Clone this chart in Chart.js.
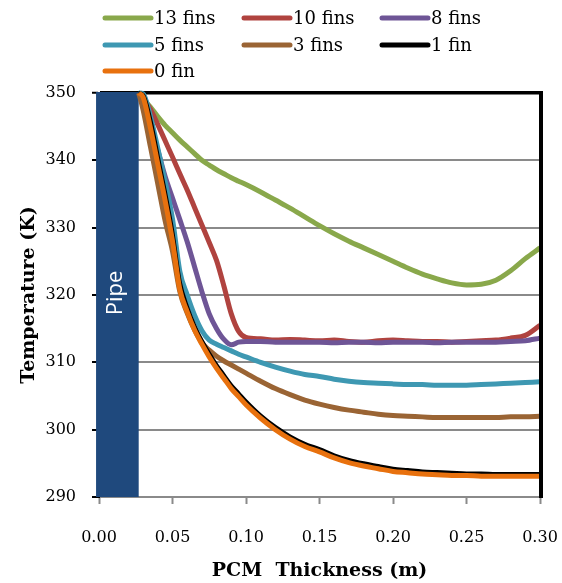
<!DOCTYPE html>
<html>
<head>
<meta charset="utf-8">
<script src="https://cdn.jsdelivr.net/npm/chart.js@4/dist/chart.umd.min.js"></script>
<style>
  html, body { margin: 0; padding: 0; background: #ffffff; }
  #wrap { position: relative; width: 562px; height: 583px; }
</style>
</head>
<body>
<div id="wrap"><canvas id="c" width="562" height="583"></canvas></div>
<script>
// ---- data ----
const xValues = [0.027,0.03,0.035,0.04,0.045,0.05,0.055,0.06,0.065,0.07,0.075,0.08,0.085,0.09,0.095,0.10,
                 0.11,0.12,0.13,0.14,0.15,0.16,0.17,0.18,0.19,0.20,0.21,0.22,0.23,0.24,0.25,0.26,0.27,0.28,0.29,0.30];
const fins13 = [350,349.2,347.9,346.5,345.2,344.1,343.0,342.0,341.0,340.0,339.3,338.6,338.0,337.4,336.9,336.4,
                335.3,334.1,332.9,331.6,330.3,329.1,328.0,327.0,326.0,325.0,324.0,323.1,322.4,321.8,321.5,321.6,322.2,323.6,325.4,327.0];
const fins10 = [350,349.2,347.6,345.3,342.9,340.5,338.0,335.6,333.0,330.4,327.8,325.1,321.3,317.2,314.6,313.7,
                313.5,313.3,313.4,313.3,313.2,313.3,313.1,313.0,313.2,313.3,313.2,313.1,313.1,313.0,313.1,313.2,313.3,313.6,314.0,315.5];
const fins8  = [350,349.0,345.3,341.5,337.6,334.4,331.2,327.9,324.2,320.5,317.2,315.0,313.4,312.6,313.0,313.1,
                313.1,313.0,313.0,313.0,313.0,312.9,313.0,313.0,312.9,313.0,313.0,313.0,312.9,313.0,313.0,313.0,313.0,313.1,313.2,313.6];
const fins5  = [350,349.9,346.5,341.8,336.8,331.3,323.5,320.0,317.0,314.7,313.3,312.7,312.2,311.7,311.2,310.8,
                310.0,309.3,308.7,308.2,307.9,307.5,307.2,307.0,306.9,306.8,306.7,306.7,306.6,306.6,306.6,306.7,306.8,306.9,307.0,307.1];
const fins3  = [350,347.5,342.0,336.5,331.0,326.5,320.5,317.3,314.8,312.9,311.8,310.9,310.2,309.6,309.0,308.4,
                307.2,306.1,305.2,304.4,303.8,303.3,302.9,302.6,302.3,302.1,302.0,301.9,301.8,301.8,301.8,301.8,301.8,301.9,301.9,302.0];
const fin1   = [350,349.7,346.0,340.6,335.2,329.3,321.9,318.2,315.4,313.2,311.3,309.6,308.1,306.6,305.4,304.2,
                302.1,300.4,299.0,297.9,297.1,296.2,295.5,295.0,294.6,294.2,294.0,293.8,293.7,293.6,293.5,293.5,293.4,293.4,293.4,293.4];
const fin0   = [350,349.4,344.8,339.4,334.0,328.0,320.8,317.5,314.8,312.7,310.8,309.1,307.6,306.1,304.9,303.7,
                301.7,300.0,298.6,297.5,296.7,295.8,295.1,294.6,294.2,293.8,293.6,293.4,293.3,293.2,293.2,293.1,293.1,293.1,293.1,293.1];
const seriesNames = ['13 fins','10 fins','8 fins','5 fins','3 fins','1 fin','0 fin'];
const xTicks = [0,0.05,0.10,0.15,0.20,0.25,0.30];
const yTicks = [290,300,310,320,330,340,350];
const pipeRange = [-0.002, 0.027];   // pipe wall region (m)
const pipeLabel = 'Pipe';

// ---- styling ----
const colors = ['#89a84b','#b0433f','#6e5596','#3e98b2','#9a6434','#000000','#e8710e'];
const widths = [5,5,5,5,5,4,5];
const allSeries = [fins13, fins10, fins8, fins5, fins3, fin1, fin0];

const datasets = allSeries.map((vals, i) => ({
  label: seriesNames[i],
  data: xValues.map((x, k) => ({x: x, y: vals[k]})),
  borderColor: colors[i],
  backgroundColor: colors[i],
  borderWidth: widths[i],
  pointRadius: 0,
  cubicInterpolationMode: 'monotone',
  fill: false,
  clip: false,
  order: allSeries.length - 1 - i
}));

const serif = '"DejaVu Serif", "Liberation Serif", serif';

const pipePlugin = {
  id: 'pipe',
  beforeDatasetsDraw(chart) {
    const {ctx, scales: {x, y}} = chart;
    const l = x.getPixelForValue(pipeRange[0]);
    const r = x.getPixelForValue(pipeRange[1]);
    const t = y.getPixelForValue(350);
    const b = y.getPixelForValue(290);
    ctx.save();
    ctx.fillStyle = '#1f497d';
    ctx.fillRect(l, t - 1, r - l, b - t + 1);
    ctx.translate((l + r) / 2 + 4.5, (t + b) / 2 - 2);
    ctx.rotate(-Math.PI / 2);
    ctx.fillStyle = '#ffffff';
    ctx.font = '22px "Open Sans", "Liberation Sans", sans-serif';
    ctx.textAlign = 'center';
    ctx.textBaseline = 'alphabetic';
    ctx.fillText(pipeLabel, 0, 0);
    ctx.restore();
  },
  afterDatasetsDraw(chart) {
    const {ctx, chartArea: a} = chart;
    ctx.save();
    ctx.strokeStyle = '#000';
    ctx.lineWidth = 4;
    ctx.beginPath();
    ctx.moveTo(a.right + 1, a.top - 2);
    ctx.lineTo(a.right + 1, a.bottom + 1);
    ctx.stroke();
    ctx.restore();
  }
};

const legendPlugin = {
  id: 'gridLegend',
  afterDraw(chart) {
    const ctx = chart.ctx;
    const colX = [103, 242, 380];
    const rowY = [18, 45, 71];
    ctx.save();
    ctx.font = '18px ' + serif;
    ctx.textBaseline = 'middle';
    ctx.textAlign = 'left';
    chart.data.datasets.forEach((ds, i) => {
      const x0 = colX[i % 3], y0 = rowY[Math.floor(i / 3)];
      ctx.strokeStyle = ds.borderColor;
      ctx.lineWidth = 5;
      ctx.lineCap = 'round';
      ctx.beginPath();
      ctx.moveTo(x0 + 2, y0);
      ctx.lineTo(x0 + 48, y0);
      ctx.stroke();
      ctx.fillStyle = '#000';
      ctx.fillText(ds.label, x0 + 51, y0 + 1);
    });
    ctx.restore();
  }
};

new Chart(document.getElementById('c'), {
  type: 'line',
  data: { datasets },
  plugins: [pipePlugin, legendPlugin],
  options: {
    responsive: false,
    animation: false,
    devicePixelRatio: 1,
    layout: { padding: { top: 93, right: 22, left: 0, bottom: 0 } },
    plugins: { legend: { display: false }, tooltip: { enabled: false } },
    scales: {
      x: {
        type: 'linear',
        min: xTicks[0],
        max: xTicks[xTicks.length - 1],
        afterFit(s) { s.height = 86; s.paddingRight = 10; s.paddingLeft = 10; },
        afterBuildTicks(s) { s.ticks = xTicks.map(v => ({value: v})); },
        ticks: {
          autoSkip: false, maxRotation: 0, padding: 24,
          color: '#000', font: { family: serif, size: 16 },
          callback: v => Number(v).toFixed(2)
        },
        grid: { drawOnChartArea: false, drawTicks: true, tickLength: 7, tickColor: '#8a8a8a', tickWidth: 2, color: '#8a8a8a' },
        border: { display: true, color: '#8a8a8a', width: 2 },
        title: { display: true, text: 'PCM  Thickness (m)', color: '#000',
                 font: { family: serif, size: 19, weight: 'bold' }, padding: { top: 0, bottom: 1 } }
      },
      y: {
        type: 'linear',
        min: yTicks[0],
        max: yTicks[yTicks.length - 1],
        afterFit(s) { s.width = 99; },
        afterBuildTicks(s) { s.ticks = yTicks.map(v => ({value: v})); },
        ticks: { padding: 16, color: '#000', font: { family: serif, size: 16 } },
        grid: {
          drawTicks: true, tickLength: 7, tickColor: '#000', tickWidth: 2,
          color: c => c.tick && c.tick.value === 350 ? '#000' : (c.tick && c.tick.value === 290 ? 'rgba(0,0,0,0)' : '#8a8a8a'),
          lineWidth: c => c.tick && c.tick.value === 350 ? 3.5 : 2
        },
        border: { display: true, color: '#000', width: 2 },
        title: { display: true, text: 'Temperature (K)', color: '#000',
                 font: { family: serif, size: 19, weight: 'bold' }, padding: { top: 18, bottom: 0 } }
      }
    }
  }
});
</script>
</body>
</html>
